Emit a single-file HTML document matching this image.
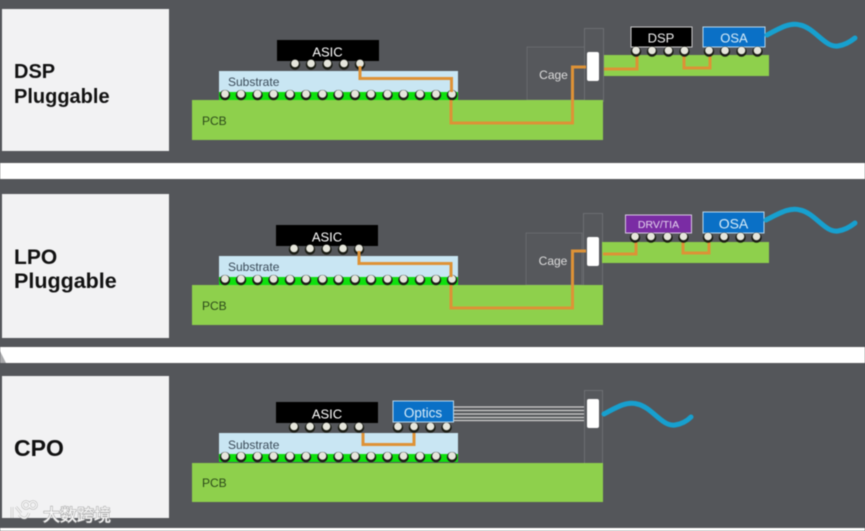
<!DOCTYPE html>
<html><head><meta charset="utf-8"><style>
html,body{margin:0;padding:0;background:#54565a}
svg{display:block;filter:blur(.5px)}
text{font-family:"Liberation Sans","Noto Sans CJK SC",sans-serif}
</style></head><body>
<svg xmlns="http://www.w3.org/2000/svg" width="865" height="531" viewBox="0 0 865 531">
<defs>
<g id="b"><circle cy="0.600" r="5.200" fill="#1a1c14"/><circle cy="-0.600" r="3.800" fill="#e6e6dc"/></g>
<g id="sb">
<rect x="0" y="21" width="239" height="8" fill="#0ee00e"/>
<use href="#b" x="6" y="23.500"/><use href="#b" x="22" y="23.500"/><use href="#b" x="38.500" y="23.500"/><use href="#b" x="54.500" y="23.500"/><use href="#b" x="71" y="23.500"/><use href="#b" x="87" y="23.500"/><use href="#b" x="103.500" y="23.500"/><use href="#b" x="119.500" y="23.500"/><use href="#b" x="136" y="23.500"/><use href="#b" x="152" y="23.500"/><use href="#b" x="168.500" y="23.500"/><use href="#b" x="184.500" y="23.500"/><use href="#b" x="201" y="23.500"/><use href="#b" x="217" y="23.500"/><use href="#b" x="233" y="23.500"/>
</g>
<g id="ab"><use href="#b" x="18" y="0"/><use href="#b" x="34" y="0"/><use href="#b" x="50.500" y="0"/><use href="#b" x="67" y="0"/><use href="#b" x="83" y="0"/></g>
<g id="fb"><use href="#b" x="0" y="0"/><use href="#b" x="16" y="0"/><use href="#b" x="32.500" y="0"/><use href="#b" x="48.500" y="0"/></g>
</defs>

<rect width="865" height="531" fill="#54565a"/>
<rect y="163" width="865" height="16" fill="#fff"/>
<rect y="347" width="865" height="16" fill="#fff"/>
<rect y="528" width="865" height="3" fill="#fff"/>
<path d="M0 351L6 363H0Z" fill="#54565a" opacity=".5"/>

<!-- labels -->
<rect x="2" y="9" width="167" height="142" fill="#f2f2f3"/>
<rect x="2" y="194" width="167" height="144" fill="#f2f2f3"/>
<rect x="2" y="376" width="167" height="142" fill="#f2f2f3"/>
<g font-weight="700" fill="#111" font-size="20">
<text x="14" y="78">DSP</text><text x="14" y="103">Pluggable</text>
<text x="14" y="264" font-size="21">LPO</text><text x="14" y="288" font-size="21.500">Pluggable</text>
<text x="14" y="456" font-size="23">CPO</text>
</g>

<!-- ROW 1 -->
<rect x="527" y="47" width="58" height="53" fill="#56585c" stroke="#67696d"/>
<rect x="584.500" y="28.500" width="19" height="73" fill="#56585c" stroke="#6c6e72"/>
<rect x="192" y="100" width="411" height="40" fill="#8ed04c"/>
<rect x="219" y="71" width="239" height="22" fill="#c9e6f3"/>
<use href="#sb" x="219" y="71"/>
<rect x="277" y="40" width="102" height="21" fill="#000"/>
<use href="#ab" x="277" y="64"/>
<rect x="604" y="55" width="165" height="21" fill="#8ed04c"/>
<path d="M360 66V78.500H451.500V92M451 100V123H572.500V67H586M604 69H637V55M684 55V68H710V55" fill="none" stroke="#de9236" stroke-width="3"/>
<rect x="587" y="52" width="12" height="29" rx="2" fill="#fff"/>
<rect x="631" y="27" width="61" height="20" fill="#000" stroke="#c8c8c8"/>
<rect x="703" y="27" width="62" height="20" fill="#0a70c6" stroke="#b5d6ee"/>
<use href="#fb" x="636" y="51"/><use href="#fb" x="709" y="51"/>
<path d="M767 35C780 28 790 22 800 25C815 28 825 48 838 46C845 45 850 42 855 38" fill="none" stroke="#17a0cf" stroke-width="5" stroke-linecap="round"/>
<g font-size="13">
<text x="327.500" y="56.500" text-anchor="middle" fill="#fff">ASIC</text>
<text x="228" y="86" font-size="12" fill="#3a4a58">Substrate</text>
<text x="202" y="125" font-size="12" fill="#2c4a1a">PCB</text>
<text x="553.500" y="79" font-size="12" text-anchor="middle" fill="#ddd">Cage</text>
<text x="661" y="42.500" text-anchor="middle" fill="#eee">DSP</text>
<text x="734" y="42.500" text-anchor="middle" fill="#d8ecf8">OSA</text>
</g>

<!-- ROW 2 -->
<rect x="526" y="233" width="56" height="52" fill="#56585c" stroke="#67696d"/>
<rect x="583.500" y="213.500" width="19" height="73" fill="#56585c" stroke="#6c6e72"/>
<rect x="192" y="285" width="411" height="40" fill="#8ed04c"/>
<rect x="219" y="256" width="239" height="22" fill="#c9e6f3"/>
<use href="#sb" x="219" y="256"/>
<rect x="276" y="225" width="102" height="21" fill="#000"/>
<use href="#ab" x="276" y="249"/>
<rect x="602" y="242" width="167" height="21" fill="#8ed04c"/>
<path d="M359 251V263.500H451V277M451 285V308H572.500V251H586M603 254H636V242M683 242V253H709V242" fill="none" stroke="#de9236" stroke-width="3"/>
<rect x="587" y="237" width="12" height="29" rx="2" fill="#fff"/>
<rect x="625.500" y="215" width="66" height="18" fill="#7a2ca4" stroke="#d8c4e4"/>
<rect x="703" y="212" width="61" height="21" fill="#0a70c6" stroke="#b5d6ee"/>
<use href="#fb" x="635" y="237"/><use href="#fb" x="708" y="237"/>
<path d="M766 220C780 213 790 207 800 210C815 213 825 233 838 231C845 230 850 227 855 223" fill="none" stroke="#17a0cf" stroke-width="5" stroke-linecap="round"/>
<g font-size="13">
<text x="327" y="241.500" text-anchor="middle" fill="#fff">ASIC</text>
<text x="228" y="271" font-size="12" fill="#3a4a58">Substrate</text>
<text x="202" y="310" font-size="12" fill="#2c4a1a">PCB</text>
<text x="553" y="265" font-size="12" text-anchor="middle" fill="#ddd">Cage</text>
<text x="658.500" y="228" text-anchor="middle" fill="#e4d4ee" font-size="10.500">DRV/TIA</text>
<text x="733.500" y="228.500" text-anchor="middle" fill="#d8ecf8" font-size="14">OSA</text>
</g>

<!-- ROW 3 -->
<rect x="584.500" y="390.500" width="18" height="73" fill="#56585c" stroke="#6c6e72"/>
<rect x="192" y="463" width="411" height="39" fill="#8ed04c"/>
<rect x="219" y="433" width="239" height="22" fill="#c9e6f3"/>
<use href="#sb" x="219" y="433"/>
<rect x="276" y="402" width="102" height="21" fill="#000"/>
<use href="#ab" x="276" y="427"/>
<path d="M363 433V444.500H414V433" fill="none" stroke="#de9236" stroke-width="3"/>
<path d="M454 407H584M454 410.500H584M454 414H584M454 417.500H584M454 420.500H584" stroke="#d0d0d0" stroke-width="1.200"/>
<rect x="587" y="399" width="12" height="29" rx="2" fill="#fff"/>
<rect x="393" y="401" width="60.500" height="21" fill="#0a70c6" stroke="#b5d6ee"/>
<use href="#fb" x="398" y="427"/>
<path d="M604 414C617 407 627 401 637 404C652 407 662 427 675 425C682 424 687 421 691 417" fill="none" stroke="#17a0cf" stroke-width="5" stroke-linecap="round"/>
<g font-size="13">
<text x="327" y="418.500" text-anchor="middle" fill="#fff">ASIC</text>
<text x="228" y="449" font-size="12" fill="#3a4a58">Substrate</text>
<text x="202" y="487" font-size="12" fill="#2c4a1a">PCB</text>
<text x="423" y="417.500" font-size="13.500" text-anchor="middle" fill="#d8ecf8">Optics</text>
</g>

<!-- watermark -->
<g fill="none" stroke="#b8b8b8" stroke-width="2.500">
<path d="M12 507V518M16 507L21 513M19 515Q26 522 29 513"/>
<circle cx="26" cy="505" r="3.500"/><circle cx="33" cy="505" r="3.500"/>
</g>
<g fill="none" stroke="#fafafa" stroke-width="1.300">
<path d="M12 507V518M16 507L21 513M19 515Q26 522 29 513"/>
<circle cx="26" cy="505" r="3.500"/><circle cx="33" cy="505" r="3.500"/>
</g>
<text x="43" y="521" font-size="17" fill="#fafafa" stroke="#a8a8a8" stroke-width="1.200" paint-order="stroke">大数跨境</text>
</svg>
</body></html>
